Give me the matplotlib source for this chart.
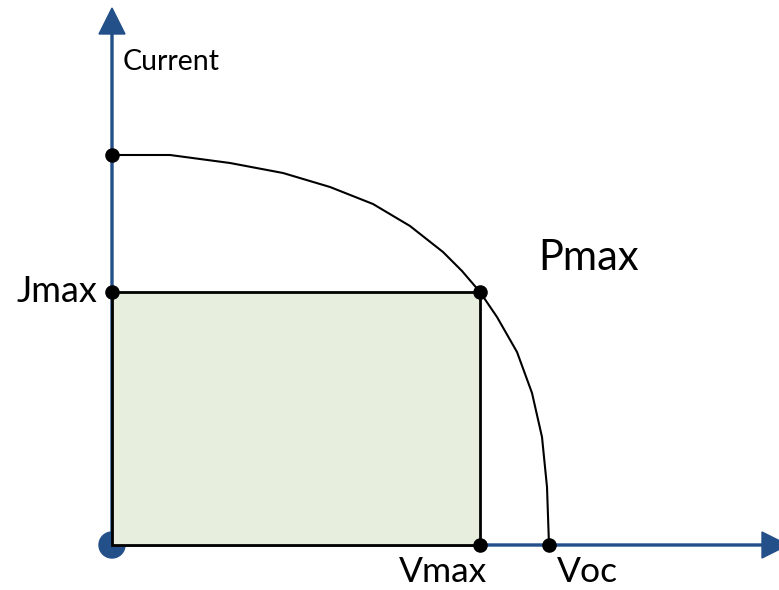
import matplotlib
matplotlib.use("Agg")
import matplotlib.pyplot as plt
from matplotlib.patches import Rectangle, Circle

plt.rcParams['font.family'] = ['Lato', 'DejaVu Sans']

# Data (arbitrary units)
curve_v = [0, 58, 118, 171, 218, 261, 298, 331, 350, 368, 385, 405, 420, 430, 435, 437]
curve_j = [390, 390, 382, 372, 358, 341, 319, 293, 274, 253, 228, 193, 152, 108, 58, 0]
Jsc = 390
Jmax = 253
Vmax = 368
Voc = 437

axis_color = '#24508A'
fill_color = '#E8EEDD'

fig = plt.figure(figsize=(7.79, 5.90), dpi=100)
ax = fig.add_axes([0, 0, 1, 1])
ax.set_xlim(-112, 667)
ax.set_ylim(-45, 545)
ax.axis('off')

# axes arrows
ax.arrow(0, 0, 676, 0, width=2, head_width=26, head_length=26,
         length_includes_head=True, color=axis_color, zorder=2, clip_on=True)
ax.arrow(0, 0, 0, 537, width=2, head_width=26, head_length=26,
         length_includes_head=True, color=axis_color, zorder=2)

# origin dot
ax.add_patch(Circle((0, 0), 13, color=axis_color, zorder=1))

# max power rectangle
ax.add_patch(Rectangle((0, 0), Vmax, Jmax, facecolor=fill_color,
                       edgecolor='black', linewidth=2, zorder=3))

# IV curve
ax.plot(curve_v, curve_j, color='black', linewidth=1.5, zorder=4,
        solid_joinstyle='round')

# points
px = [0, 0, Vmax, Vmax, Voc]
py = [Jsc, Jmax, Jmax, 0, 0]
ax.scatter(px, py, s=110, color='black', zorder=5, linewidths=0)

# labels
ax.text(11, 475, 'Current', fontsize=20.5, ha='left', va='baseline')
ax.text(-15, 243, 'Jmax', fontsize=26, ha='right', va='baseline')
ax.text(426, 275, 'Pmax', fontsize=30, ha='left', va='baseline')
ax.text(331, -37, 'Vmax', fontsize=25.5, ha='center', va='baseline')
ax.text(475, -37, 'Voc', fontsize=25.5, ha='center', va='baseline')

fig.savefig('out.png', dpi=100)
